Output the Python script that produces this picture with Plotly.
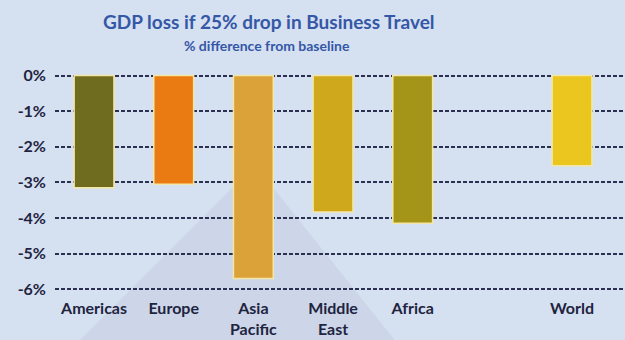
import plotly.graph_objects as go

categories = ["Americas", "Europe", "Asia<br>Pacific", "Middle<br>East", "Africa", " ", "World"]
regions = ["Americas", "Europe", "Asia<br>Pacific", "Middle<br>East", "Africa", "World"]
gdp_loss = [-3.15, -3.05, -5.7, -3.83, -4.15, -2.53]
bar_colors = ["#6f6b1f", "#ea7a12", "#dca23a", "#d0a81c", "#a49518", "#ebc61f"]
tick_vals = [0, -1, -2, -3, -4, -5, -6]
tick_text = ["0%", "-1%", "-2%", "-3%", "-4%", "-5%", "-6%"]

fig = go.Figure()
fig.add_trace(go.Bar(
    x=regions, y=gdp_loss, width=0.5,
    marker=dict(color=bar_colors, line=dict(color="#f4e7a6", width=1.5)),
    hoverinfo="x+y",
))

fig.update_layout(
    width=625, height=340,
    margin=dict(l=55, r=0, t=72, b=49),
    paper_bgcolor="#d5e0f1",
    plot_bgcolor="rgba(0,0,0,0)",
    showlegend=False,
    font=dict(family="Lato", color="#1f2440"),
    shapes=[dict(type="path", xref="paper", yref="paper",
                 path="M 0.044 -0.224 L 0.351 0.575 L 0.596 -0.224 Z",
                 fillcolor="rgba(140,150,170,0.12)", line=dict(width=0), layer="below")],
    annotations=[
        dict(text="<b>GDP loss if 25% drop in Business Travel</b>", xref="paper", yref="paper",
             x=(269 - 55) / 570, y=(291 - 22) / 219, xanchor="center", yanchor="middle",
             showarrow=False, font=dict(size=19, color="#3457a6", family="Lato")),
        dict(text="<b>% difference from baseline</b>", xref="paper", yref="paper",
             x=(267 - 55) / 570, y=(291 - 46) / 219, xanchor="center", yanchor="middle",
             showarrow=False, font=dict(size=14, color="#3457a6", family="Lato")),
    ],
)
fig.update_xaxes(
    type="category", categoryorder="array", categoryarray=categories,
    range=[-0.49, 6.665], showgrid=False, zeroline=False, showline=False,
    ticks="", ticklabelstandoff=6,
    tickfont=dict(size=16, color="#1f2440", family="Lato", weight="bold"),
)
fig.update_yaxes(
    range=[-6.05, 0.1], tickvals=tick_vals, ticktext=tick_text,
    showgrid=True, gridcolor="#2b3050", gridwidth=2, griddash="4px,2px",
    zeroline=False, showline=False, ticks="", ticklabelstandoff=8,
    tickfont=dict(size=16, color="#1f2440", family="Lato", weight="bold"),
)

fig.write_html("out.html")
